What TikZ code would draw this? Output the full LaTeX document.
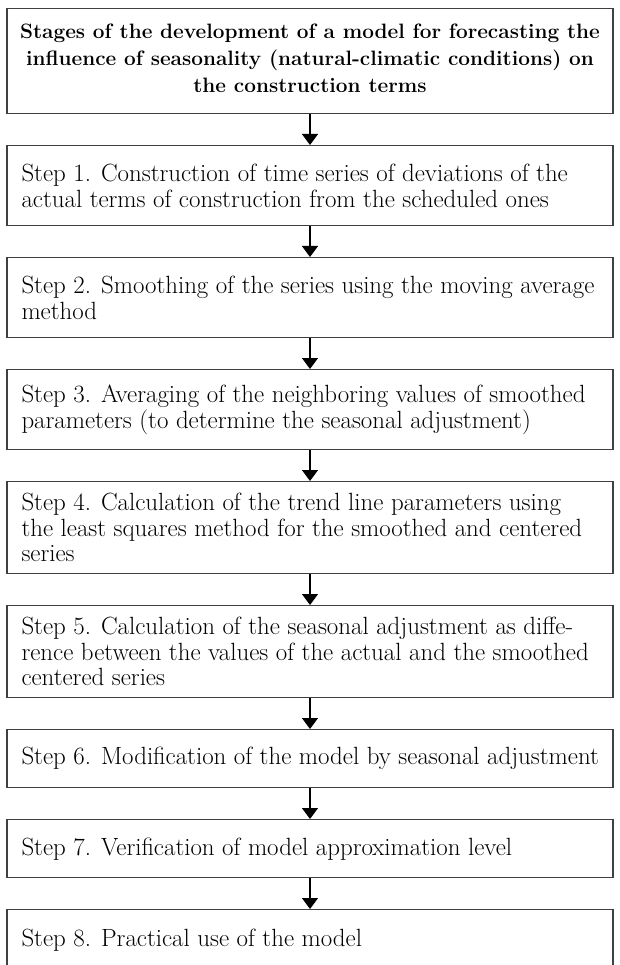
\documentclass[tikz,border=0pt]{standalone}
\usetikzlibrary{arrows.meta}
\begin{document}
\begin{tikzpicture}[x=1pt,y=-1pt,
  stepbox/.style={draw=black!75, line width=1.4pt, minimum width=606pt, inner sep=0pt, anchor=north},
  steptext/.style={anchor=west, align=left, inner sep=0pt, font=\fontsize{24.9}{25.5}\selectfont},
  titletext/.style={align=center, inner sep=0pt, font=\fontsize{20.8}{27}\selectfont\bfseries},
  flowarrow/.style={line width=1.2pt, draw=black, -{Triangle[width=16pt,length=11pt]}}]
\useasboundingbox (0,0) rectangle (620,965);
\clip (0,0) rectangle (620,965);
\fill[white] (0,0) rectangle (620,965);

\node[stepbox, minimum height=105pt] (b0) at (310,8) {};
\node[stepbox, minimum height=80pt] (b1) at (310,145) {};
\node[stepbox, minimum height=80pt] (b2) at (310,257) {};
\node[stepbox, minimum height=80pt] (b3) at (310,369) {};
\node[stepbox, minimum height=92pt] (b4) at (310,481) {};
\node[stepbox, minimum height=92pt] (b5) at (310,605) {};
\node[stepbox, minimum height=58pt] (b6) at (310,729) {};
\node[stepbox, minimum height=58pt] (b7) at (310,819) {};
\node[stepbox, minimum height=110pt] (b8) at (310,909) {};

\node[titletext] (t0) at ([yshift=3pt]b0.center) {Stages of the development of a model for forecasting the\\influence of seasonality (natural-climatic conditions) on\\the construction terms};
\node[steptext] (t1) at ([xshift=15pt]b1.west) {Step 1. Construction of time series of deviations of the\\actual terms of construction from the scheduled ones};
\node[steptext] (t2) at ([xshift=15pt]b2.west) {Step 2. Smoothing of the series using the moving average\\method};
\node[steptext] (t3) at ([xshift=15pt]b3.west) {Step 3. Averaging of the neighboring values of smoothed\\parameters (to determine the seasonal adjustment)};
\node[steptext] (t4) at ([xshift=15pt]b4.west) {Step 4. Calculation of the trend line parameters using\\the least squares method for the smoothed and centered\\series};
\node[steptext] (t5) at ([xshift=15pt]b5.west) {Step 5. Calculation of the seasonal adjustment as diffe-\\rence between the values of the actual and the smoothed\\centered series};
\node[steptext] (t6) at ([xshift=15pt]b6.west) {Step 6. Modification of the model by seasonal adjustment};
\node[steptext] (t7) at ([xshift=15pt]b7.west) {Step 7. Verification of model approximation level};
\node[steptext] (t8) at ([xshift=15pt,yshift=-31pt]b8.north west) {Step 8. Practical use of the model};

\draw[flowarrow] (b0.south) -- (b1.north);
\draw[flowarrow] (b1.south) -- (b2.north);
\draw[flowarrow] (b2.south) -- (b3.north);
\draw[flowarrow] (b3.south) -- (b4.north);
\draw[flowarrow] (b4.south) -- (b5.north);
\draw[flowarrow] (b5.south) -- (b6.north);
\draw[flowarrow] (b6.south) -- (b7.north);
\draw[flowarrow] (b7.south) -- (b8.north);
\end{tikzpicture}
\end{document}
